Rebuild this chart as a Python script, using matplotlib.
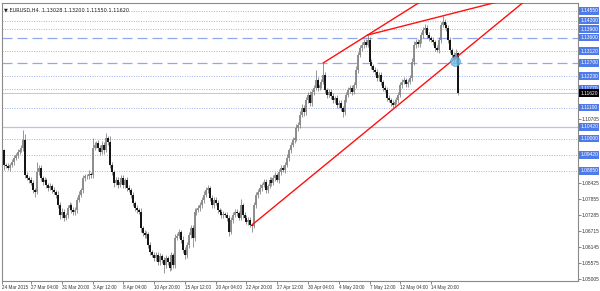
import numpy as np
import matplotlib.pyplot as plt
import matplotlib.transforms as mtransforms

plt.rcParams['font.family'] = ['Liberation Sans', 'DejaVu Sans']

title = 'EURUSD,H4  1.13028 1.13200 1.11550 1.11620'

# H4 closes, one row per trading day (first row starts 24 Mar 16:00)
first_open = 1.0930
closes = [
    1.0960, 1.0907,
    1.0903, 1.0896, 1.0907, 1.0917, 1.0932, 1.0942,
    1.0953, 1.0960, 1.0967, 1.0996, 1.0871, 1.0860,
    1.0853, 1.0843, 1.0818, 1.0811, 1.0882, 1.0896,
    1.0860, 1.0846, 1.0853, 1.0835, 1.0825, 1.0832,
    1.0818, 1.0811, 1.0800, 1.0764, 1.0729, 1.0739,
    1.0718, 1.0729, 1.0753, 1.0764, 1.0746, 1.0739,
    1.0746, 1.0782, 1.0800, 1.0818, 1.0860, 1.0867,
    1.0867, 1.0875, 1.0871, 1.0967, 1.0978, 1.0985,
    1.0967, 1.0953, 1.0978, 1.0960, 1.1003, 1.0988,
    1.0907, 1.0882, 1.0843, 1.0853, 1.0835, 1.0846,
    1.0860, 1.0835, 1.0853, 1.0825, 1.0818, 1.0800,
    1.0771, 1.0753, 1.0746, 1.0739, 1.0682, 1.0665,
    1.0657, 1.0661, 1.0622, 1.0597, 1.0586, 1.0575,
    1.0586, 1.0561, 1.0583, 1.0568, 1.0551, 1.0575,
    1.0561, 1.0540, 1.0586, 1.0551, 1.0647, 1.0654,
    1.0668, 1.0640, 1.0604, 1.0586, 1.0622, 1.0657,
    1.0682, 1.0647, 1.0739, 1.0746, 1.0753, 1.0764,
    1.0782, 1.0800, 1.0818, 1.0825, 1.0789, 1.0764,
    1.0782, 1.0771, 1.0746, 1.0739, 1.0729, 1.0732,
    1.0729, 1.0718, 1.0668, 1.0711, 1.0729, 1.0739,
    1.0735, 1.0718, 1.0764, 1.0729, 1.0718, 1.0704,
    1.0711, 1.0693, 1.0689, 1.0764, 1.0800, 1.0811,
    1.0825, 1.0835, 1.0846, 1.0818, 1.0832, 1.0853,
    1.0843, 1.0860, 1.0871, 1.0853, 1.0882, 1.0896,
    1.0889, 1.0907, 1.0932, 1.0960, 1.0978, 1.0996,
    1.1003, 1.1038, 1.1049, 1.1085, 1.1110, 1.1095,
    1.1138, 1.1156, 1.1127, 1.1167, 1.1181, 1.1209,
    1.1181, 1.1191, 1.1202, 1.1227, 1.1174, 1.1156,
    1.1167, 1.1152, 1.1138, 1.1145, 1.1120, 1.1127,
    1.1110, 1.1095, 1.1138, 1.1156, 1.1174, 1.1181,
    1.1167, 1.1191, 1.1245, 1.1298, 1.1323, 1.1334,
    1.1344, 1.1334, 1.1352, 1.1273, 1.1259, 1.1245,
    1.1238, 1.1216, 1.1227, 1.1202, 1.1181, 1.1174,
    1.1145, 1.1138, 1.1127, 1.1120, 1.1131, 1.1138,
    1.1156, 1.1191, 1.1202, 1.1209, 1.1195, 1.1202,
    1.1216, 1.1273, 1.1334, 1.1344, 1.1337, 1.1352,
    1.1369, 1.1387, 1.1394, 1.1369, 1.1359, 1.1352,
    1.1344, 1.1323, 1.1316, 1.1352, 1.1405, 1.1416,
    1.1405, 1.1394, 1.1352, 1.1316, 1.1298, 1.1280,
    1.1303, 1.1162,
]

# wick lengths above / below the body, in pips
up_wick = [
    54, 5,
    8, 10, 6, 12, 9, 7,
    10, 8, 12, 35, 20, 9,
    8, 12, 10, 6, 35, 10,
    12, 8, 10, 7, 9, 11,
    8, 10, 6, 12, 9, 14,
    10, 8, 12, 9, 7, 10,
    11, 9, 14, 8, 10, 7,
    9, 12, 8, 36, 10, 8,
    12, 9, 14, 10, 18, 8,
    20, 10, 8, 12, 9, 7,
    10, 12, 8, 9, 11, 7,
    10, 8, 12, 9, 14, 7,
    9, 10, 8, 12, 7, 10,
    10, 12, 9, 8, 11, 10,
    9, 12, 10, 8, 14, 9,
    10, 8, 12, 9, 11, 10,
    12, 10, 14, 8, 10, 9,
    10, 12, 9, 10, 8, 11,
    9, 10, 12, 8, 10, 9,
    8, 11, 10, 12, 9, 10,
    10, 9, 22, 8, 10, 9,
    9, 10, 8, 12, 10, 9,
    12, 9, 10, 11, 8, 10,
    10, 12, 9, 8, 11, 10,
    9, 10, 12, 8, 10, 11,
    10, 14, 9, 12, 15, 10,
    12, 10, 14, 9, 11, 36,
    10, 12, 9, 43, 10, 8,
    9, 11, 10, 8, 12, 9,
    10, 8, 12, 9, 11, 10,
    9, 12, 14, 10, 12, 11,
    10, 12, 17, 9, 10, 8,
    11, 9, 10, 12, 8, 10,
    9, 10, 8, 11, 10, 12,
    10, 12, 9, 10, 8, 11,
    9, 14, 12, 10, 11, 9,
    12, 10, 14, 9, 10, 8,
    10, 9, 12, 11, 10, 21,
    10, 12, 9, 11, 8, 10,
    17, 4,
]
dn_wick = [
    6, 18,
    9, 8, 12, 7, 10, 8,
    10, 9, 8, 12, 10, 8,
    10, 9, 12, 18, 8, 10,
    9, 11, 8, 10, 12, 9,
    10, 8, 12, 9, 14, 10,
    12, 9, 10, 8, 11, 9,
    10, 12, 8, 9, 10, 11,
    9, 10, 12, 11, 8, 10,
    10, 12, 8, 14, 9, 10,
    10, 12, 14, 9, 10, 8,
    9, 11, 10, 12, 8, 10,
    10, 9, 12, 8, 14, 10,
    11, 9, 10, 12, 8, 10,
    10, 12, 9, 11, 29, 10,
    12, 10, 9, 11, 10, 8,
    9, 12, 10, 14, 9, 10,
    10, 32, 10, 9, 8, 10,
    9, 10, 8, 12, 10, 9,
    10, 8, 12, 9, 10, 11,
    9, 10, 14, 8, 10, 9,
    10, 9, 8, 12, 10, 9,
    10, 9, 21, 8, 10, 12,
    9, 10, 8, 12, 10, 9,
    10, 9, 11, 8, 10, 12,
    9, 10, 8, 11, 10, 9,
    10, 12, 9, 10, 8, 14,
    12, 10, 9, 11, 10, 9,
    10, 9, 12, 8, 10, 11,
    9, 10, 12, 11, 9, 10,
    12, 18, 10, 9, 8, 10,
    10, 9, 12, 10, 9, 11,
    10, 9, 8, 12, 10, 9,
    11, 10, 9, 12, 10, 8,
    10, 9, 11, 10, 8, 9,
    10, 9, 12, 8, 10, 11,
    9, 10, 12, 10, 9, 11,
    10, 9, 11, 12, 10, 9,
    12, 10, 9, 11, 10, 9,
    10, 9, 12, 10, 11, 10,
    9, 7,
]

# x axis labels, every 16 bars
date_labels = ['24 Mar 2015', '27 Mar 04:00', '31 Mar 20:00', '3 Apr 12:00', '8 Apr 04:00',
               '10 Apr 20:00', '15 Apr 12:00', '20 Apr 04:00', '22 Apr 20:00', '27 Apr 12:00',
               '30 Apr 04:00', '4 May 20:00', '7 May 12:00', '12 May 04:00', '14 May 20:00']

# horizontal levels drawn on the chart
levels = [1.14550, 1.14200, 1.13900, 1.13600, 1.13120, 1.12700, 1.12230,
          1.11770, 1.11100, 1.10420, 1.10000, 1.09420, 1.08850]
level_style = ['dot', 'dot', 'dot', 'dash', 'dot', 'dash', 'dot',
               'dot', 'dot', 'solid', 'dot', 'dot', 'dot']
bid = 1.11620

# trend lines: (bar, price) anchors, extended to the right
lower_line = [(129.9, 1.0693), (234.4, 1.1280)]
upper_line1 = [(167.0, 1.1270), (190.0, 1.1369)]
upper_line2 = [(190.0, 1.1369), (229.0, 1.1437)]
break_point = (235.5, 1.1277)

axis_ticks = [1.05005, 1.05575, 1.06145, 1.06715, 1.07285, 1.07855, 1.08425, 1.08995,
              1.09565, 1.10135, 1.10705, 1.11275, 1.11845, 1.12415, 1.12985, 1.13555,
              1.14125, 1.14695]

closes = np.array(closes)
opens = np.r_[first_open, closes[:-1]]
highs = np.maximum(opens, closes) + np.array(up_wick) * 1e-4
lows = np.minimum(opens, closes) - np.array(dn_wick) * 1e-4
x = np.arange(len(closes))

fig = plt.figure(figsize=(6, 2.91), dpi=100)
ax = fig.add_axes([2 / 600, 10 / 291, 576 / 600, 278 / 291])
ax.set_xlim(-0.1, 299.4)
ax.set_ylim(1.04934, 1.14830)

# levels
for lv, st in zip(levels, level_style):
    if st == 'dot':
        ax.axhline(lv, color='#9fb0f2', lw=0.7, ls=(0, (1, 1.5)), zorder=1)
    elif st == 'dash':
        ax.axhline(lv, color='#90a8f0', lw=0.9, ls=(0, (8, 4)), zorder=1)
    else:
        ax.axhline(lv, color='#b4c4f2', lw=0.9, zorder=1)
ax.axhline(bid, color='#c8c8c8', lw=0.7, zorder=1)

# candles
up = closes >= opens
ax.vlines(x, lows, highs, color='#6e6e6e', lw=0.5, zorder=2)
body_lo = np.minimum(opens, closes)
body_hi = np.maximum(opens, closes) + 0.00008
ax.vlines(x[up], body_lo[up], body_hi[up], color='#8c8c8c', lw=1.4, zorder=3)
ax.vlines(x[~up], body_lo[~up], body_hi[~up], color='#111111', lw=1.4, zorder=3)

# trend lines
for ln in (lower_line, upper_line1, upper_line2):
    (x0, y0), (x1, y1) = ln
    slope = (y1 - y0) / (x1 - x0)
    xe = 320
    ax.plot([x0, xe], [y0, y0 + slope * (xe - x0)], color='#ff1010', lw=1.0, zorder=4)
ax.plot(*break_point, 'o', ms=7, mfc='#6ec0ea', mec='#3c9ad8', mew=0.6, alpha=0.8, zorder=5)

# axes styling
for s in ax.spines.values():
    s.set_color('#8a8a8a')
    s.set_linewidth(0.8)
ax.yaxis.tick_right()
shown = [t for t in axis_ticks
         if min(abs(t - lv) for lv in levels + [bid]) > 0.0025]
ax.set_yticks(shown)
ax.set_yticklabels(['%.5f' % t for t in shown])
ax.tick_params(axis='y', length=2, width=0.5, color='#555555', labelsize=3.5,
               labelcolor='#333333', pad=0.8)
ax.set_xticks(np.arange(len(date_labels)) * 16 - 1 + np.r_[1, np.zeros(len(date_labels) - 1)])
ax.set_xticklabels(date_labels)
for lab in ax.get_xticklabels():
    lab.set_ha('left')
ax.tick_params(axis='x', length=2, width=0.5, color='#555555', labelsize=3.3,
               labelcolor='#333333', pad=0.8)

trans = mtransforms.blended_transform_factory(ax.transAxes, ax.transData)
for lv in levels:
    ax.text(1.004, lv, '%.5f' % lv, transform=trans, fontsize=3.5, color='white',
            va='center', ha='left', clip_on=False,
            bbox=dict(boxstyle='square,pad=0.25', fc='#4f7be8', ec='none'))
ax.text(1.004, bid, '%.5f' % bid, transform=trans, fontsize=3.5, color='white',
        va='center', ha='left', clip_on=False,
        bbox=dict(boxstyle='square,pad=0.25', fc='black', ec='none'))

ax.text(0.004, 0.985, '\u25bc ' + title, transform=ax.transAxes, fontsize=3.6,
        color='#222222', va='top', ha='left', family=['DejaVu Sans'])

fig.savefig('out.png', dpi=100, facecolor='white')
